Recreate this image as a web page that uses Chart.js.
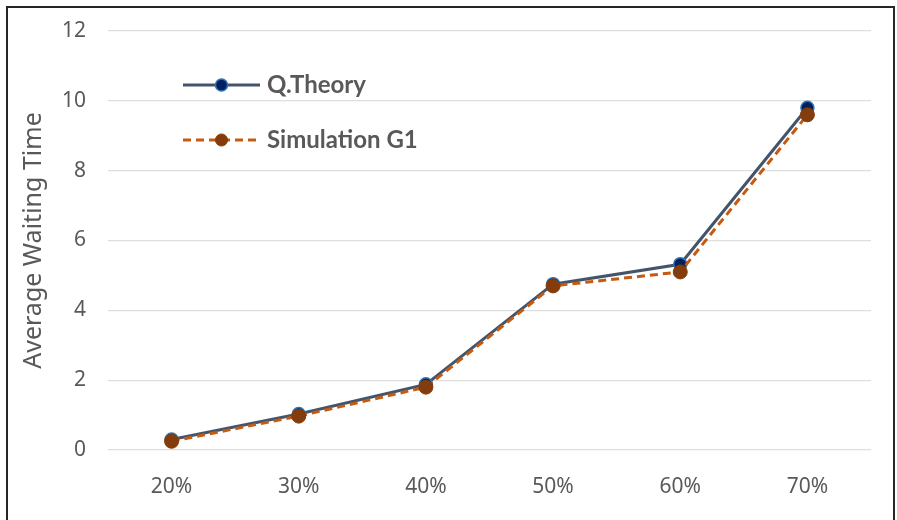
<!DOCTYPE html>
<html>
<head>
<meta charset="utf-8">
<script src="https://cdn.jsdelivr.net/npm/chart.js@4.4.1/dist/chart.umd.min.js"></script>
<style>
    html, body {
        margin: 0;
        padding: 0;
        background: #ffffff;
        overflow: hidden;
    }
    #wrap {
        position: relative;
        width: 897px;
        height: 520px;
    }
    #frame {
        position: absolute;
        left: 6px;
        top: 6px;
        width: 885px;
        height: 530px;
        border: 2px solid #262626;
        pointer-events: none;
    }
</style>
</head>
<body>
<div id="wrap">
    <canvas id="waitChart" width="897" height="520"></canvas>
    <div id="frame"></div>
</div>
<script>
const loadLabels = ["20%", "30%", "40%", "50%", "60%", "70%"];
const theoryValues = [0.3, 1.03, 1.88, 4.75, 5.32, 9.8];
const simValues = [0.25, 0.97, 1.8, 4.7, 5.1, 9.6];
const yTicks = [0, 2, 4, 6, 8, 10, 12];

const textGray = "#595959";
const fontFamily = "'Noto Sans', sans-serif";

// legend drawn inside the plot area, top left, like the Excel original
const insideLegend = {
    id: "insideLegend",
    afterDraw(chart) {
        const ctx = chart.ctx;
        const area = chart.chartArea;
        const items = [
            { ds: chart.data.datasets[0], y: area.top + 54 },
            { ds: chart.data.datasets[1], y: area.top + 109 }
        ];
        const x0 = area.left + 75;
        const x1 = x0 + 77;

        items.forEach(item => {
            const ds = item.ds;
            ctx.save();
            ctx.strokeStyle = ds.borderColor;
            ctx.lineWidth = ds.borderWidth;
            ctx.setLineDash(ds.borderDash || []);
            ctx.beginPath();
            ctx.moveTo(x0, item.y);
            ctx.lineTo(x1, item.y);
            ctx.stroke();
            ctx.setLineDash([]);
            ctx.beginPath();
            ctx.arc((x0 + x1) / 2, item.y, 6, 0, Math.PI * 2);
            ctx.fillStyle = ds.pointBackgroundColor;
            ctx.fill();
            ctx.lineWidth = ds.pointBorderWidth;
            ctx.strokeStyle = ds.pointBorderColor;
            ctx.stroke();
            ctx.fillStyle = textGray;
            ctx.font = "bold 24px Lato, sans-serif";
            ctx.textBaseline = "middle";
            ctx.fillText(ds.label, x1 + 7, item.y);
            ctx.restore();
        });
    }
};

const chart = new Chart(
    document.getElementById("waitChart"),
    {
        type: "line",

        data: {
            labels: loadLabels,

            datasets: [
                {
                    label: "Q.Theory",
                    data: theoryValues,
                    borderColor: "#44546A",
                    borderWidth: 3,
                    pointBackgroundColor: "#002060",
                    pointBorderColor: "#2E75B6",
                    pointBorderWidth: 1.5,
                    pointRadius: 6.5,
                    tension: 0,
                    order: 1
                },
                {
                    label: "Simulation G1",
                    data: simValues,
                    borderColor: "#C55A11",
                    borderWidth: 3,
                    borderDash: [8, 5],
                    pointBackgroundColor: "#843C0C",
                    pointBorderColor: "#843C0C",
                    pointBorderWidth: 1,
                    pointRadius: 7,
                    tension: 0,
                    order: 0
                }
            ]
        },

        options: {
            responsive: false,
            animation: false,
            devicePixelRatio: 1,

            layout: {
                padding: { left: 17, right: 26, top: 31, bottom: 10 }
            },

            plugins: {
                legend: { display: false },
                tooltip: { enabled: false }
            },

            scales: {
                x: {
                    offset: true,
                    grid: { display: false, drawTicks: false },
                    border: { display: false },
                    ticks: {
                        color: textGray,
                        padding: 24,
                        font: { family: fontFamily, size: 21 }
                    },
                    afterFit(scale) {
                        scale.height = 60;
                    }
                },
                y: {
                    min: 0,
                    max: 12,
                    afterBuildTicks(scale) {
                        scale.ticks = yTicks.map(v => ({ value: v }));
                    },
                    grid: { color: "#dedede", lineWidth: 1.3, drawTicks: false },
                    border: { display: false },
                    ticks: {
                        color: textGray,
                        padding: 22,
                        font: { family: fontFamily, size: 21 }
                    },
                    title: {
                        display: true,
                        text: "Average Waiting Time",
                        color: textGray,
                        font: { family: fontFamily, size: 25 },
                        padding: { top: 2, bottom: 2 }
                    },
                    afterFit(scale) {
                        scale.width = 91;
                        scale.paddingTop = 0;
                        scale.paddingBottom = 0;
                    }
                }
            }
        },

        plugins: [insideLegend]
    }
);
</script>
</body>
</html>
